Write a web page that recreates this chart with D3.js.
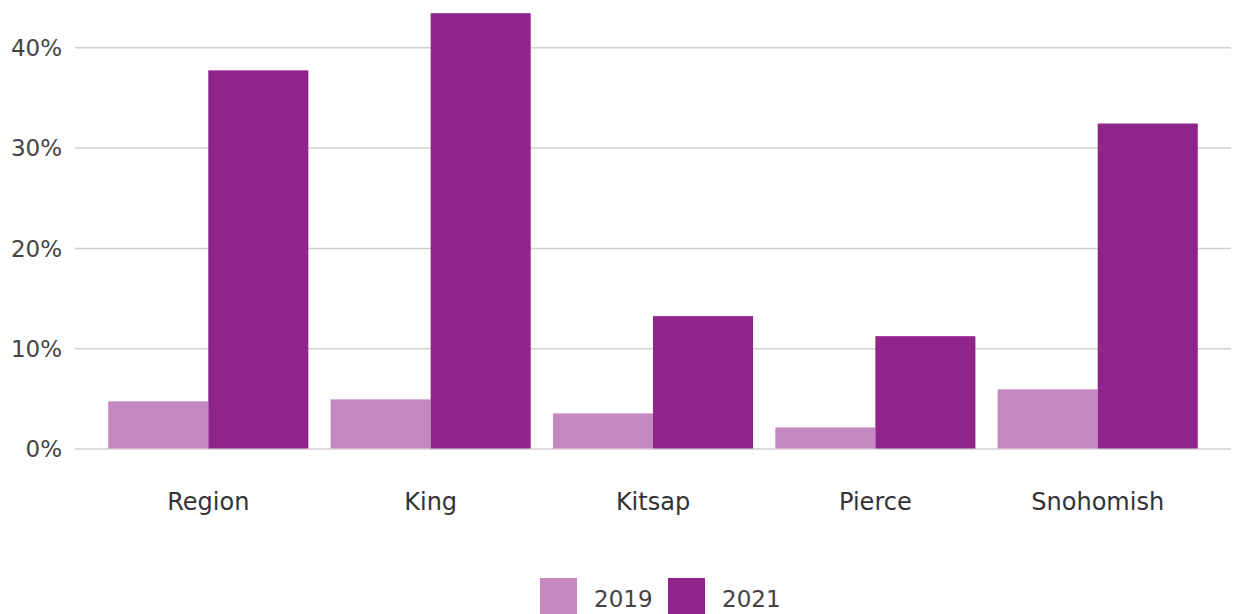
<!DOCTYPE html>
<html>
<head>
<meta charset="utf-8">
<script src="https://cdn.jsdelivr.net/npm/d3@7"></script>
<style>
  body { margin: 0; background: #fff; }
  svg, svg text { font-family: "DejaVu Sans", sans-serif; }
  svg { display: block; }
</style>
</head>
<body>
<div id="chart"></div>
<script>
const categories = ["Region", "King", "Kitsap", "Pierce", "Snohomish"];
const years = ["2019", "2021"];
const values2019 = [4.7, 4.9, 3.5, 2.1, 5.9];
const values2021 = [37.7, 43.4, 13.2, 11.2, 32.4];
const yTicks = [0, 10, 20, 30, 40];

const colors = { "2019": "#c388c0", "2021": "#8f258a" };

const width = 1235, height = 614;
const gridLeft = 75, gridRight = 1231;

const svg = d3.select("#chart").append("svg")
    .attr("width", width)
    .attr("height", height);

const y = d3.scaleLinear().domain([0, 40]).range([448.5, 47.3]);
const x = d3.scaleBand().domain(categories).range([86, 1220]).padding(0.1);
const xSub = d3.scaleBand().domain(years).range([0, x.bandwidth()]);

// gridlines + tick labels
const yAxis = d3.axisLeft(y)
    .tickValues(yTicks)
    .tickSize(-(gridRight - gridLeft))
    .tickPadding(13)
    .tickFormat(d => d + "%");

svg.append("g")
    .attr("transform", `translate(${gridLeft},0)`)
    .call(yAxis)
    .call(g => g.select(".domain").remove())
    .call(g => g.selectAll("line").attr("stroke", "#d0d0d0").attr("stroke-width", 1.5))
    .call(g => g.selectAll("text")
        .attr("fill", "#444")
        .attr("dy", "0.36em")
        .style("font-size", "23px"));

const rows = categories.map((c, i) => ({ cat: c, "2019": values2019[i], "2021": values2021[i] }));

const groups = svg.append("g").selectAll("g")
    .data(rows)
    .join("g")
    .attr("transform", d => `translate(${x(d.cat)},0)`);

groups.selectAll("rect")
    .data(d => years.map(yr => ({ year: yr, value: d[yr] })))
    .join("rect")
    .attr("x", d => xSub(d.year))
    .attr("y", d => y(d.value))
    .attr("width", xSub.bandwidth())
    .attr("height", d => y(0) - y(d.value))
    .attr("fill", d => colors[d.year]);

// category labels
svg.append("g")
    .attr("transform", "translate(0,448.5)")
    .call(d3.axisBottom(x).tickSize(0).tickPadding(0))
    .call(g => g.select(".domain").remove())
    .call(g => g.selectAll("text")
        .attr("dy", null)
        .attr("y", 61)
        .attr("fill", "#333")
        .style("font-size", "24px"));

// legend
const legend = svg.append("g").attr("transform", "translate(540,578)");
const legendItems = [
    { year: "2019", x: 0 },
    { year: "2021", x: 128 }
];
const li = legend.selectAll("g")
    .data(legendItems)
    .join("g")
    .attr("transform", d => `translate(${d.x},0)`);
li.append("rect")
    .attr("width", 37)
    .attr("height", 36)
    .attr("fill", d => colors[d.year]);
li.append("text")
    .attr("x", 54)
    .attr("y", 29)
    .attr("fill", "#444")
    .style("font-size", "23px")
    .text(d => d.year);
</script>
</body>
</html>
